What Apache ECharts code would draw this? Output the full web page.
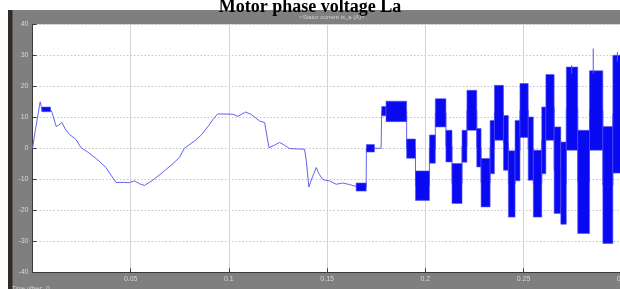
<!DOCTYPE html>
<html>
<head>
<meta charset="utf-8">
<script src="https://cdn.jsdelivr.net/npm/echarts@6/dist/echarts.min.js"></script>
<style>
html,body{margin:0;padding:0;background:#fff;}
#chart{width:620px;height:289px;}
</style>
</head>
<body>
<div id="chart"></div>
<script>
// ---- data ----
const titleText = 'Motor phase voltage La';
const scopeTitle = '<Stator current is_a (A)>';
const xTickValues = [0.05, 0.1, 0.15, 0.2, 0.25, 0.3];
const xTickLabels = ['0.05', '0.1', '0.15', '0.2', '0.25', '0.3'];
const yTickValues = [-40, -30, -20, -10, 0, 10, 20, 30, 40];

// smooth part of the trace (time s, current A)
const traceT = [0, 0.0015, 0.0039, 0.0047, 0.0092, 0.0100, 0.0120, 0.0132, 0.0150, 0.0166,
  0.0188, 0.0222, 0.0247, 0.0281, 0.0324, 0.0374, 0.0400, 0.0425, 0.0468, 0.0493,
  0.0519, 0.0544, 0.0570, 0.0612, 0.0654, 0.0705, 0.0748, 0.0773, 0.0824, 0.0858,
  0.0892, 0.0926, 0.0943, 0.1020, 0.1046, 0.1085, 0.1114, 0.1156, 0.1182, 0.1190,
  0.1204, 0.1212, 0.1232, 0.1258, 0.1283, 0.1309, 0.1385, 0.1394, 0.1407, 0.1415,
  0.1427, 0.1445, 0.1458, 0.1478, 0.1512, 0.1546, 0.1580, 0.1614, 0.1648, 0.1699,
  0.1700, 0.1775];
const traceV = [0, 6, 15, 12.8, 12.4, 11.5, 7.1, 7.4, 8.3, 6.3,
  4.5, 2.8, 0.2, -1.2, -3.3, -6.2, -8.7, -11, -11, -11.1,
  -10.5, -11.4, -12, -10.3, -8.2, -5.5, -3, 0, 2.3, 4.2,
  6.9, 9.9, 11.1, 11, 10.3, 11.7, 10.9, 8.8, 8.3, 5.3,
  0.2, -0.1, 1, 1.9, 1, -0.1, -0.3, -3.9, -12.5, -12.7,
  -9, -6.2, -8.2, -10.1, -10.5, -11.6, -11.2, -11.7, -12.3, -12.5,
  0, 0];

// dense switching bands: start time, end time, upper and lower envelope (A)
const bandT0 = [0.0047, 0.1648, 0.1700, 0.1778, 0.1800, 0.1905, 0.1950, 0.2021, 0.2051, 0.2105,
  0.2136, 0.2187, 0.2212, 0.2262, 0.2284, 0.2330, 0.2352, 0.2398, 0.2423, 0.2457,
  0.2482, 0.2524, 0.2550, 0.2593, 0.2614, 0.2656, 0.2690, 0.2718, 0.2776, 0.2836,
  0.2904, 0.2955];
const bandT1 = [0.0092, 0.1699, 0.1741, 0.1800, 0.1905, 0.1950, 0.2021, 0.2051, 0.2105, 0.2136,
  0.2187, 0.2212, 0.2262, 0.2284, 0.2330, 0.2352, 0.2398, 0.2423, 0.2457, 0.2482,
  0.2524, 0.2550, 0.2593, 0.2614, 0.2656, 0.2690, 0.2718, 0.2776, 0.2836, 0.2904,
  0.2955, 0.3000];
const bandHi = [13.3, -11.2, 1.2, 13.5, 15.2, 3, -7.3, 4.3, 16, 5.8,
  -4.9, 5.8, 18.7, 6.4, -3.3, 9, 20.3, 10.6, -0.8, 9,
  20.9, 10.1, -0.6, 13.3, 23.8, 6.9, 2, 26.2, 5.8, 25,
  7, 30];
const bandLo = [11.8, -13.8, -1.2, 10.5, 8.6, -3.2, -16.8, -4.8, 6.9, -4.4,
  -17.8, -4.5, 5.8, -6, -18.9, -8.2, 2.6, -7.1, -22.2, -10.5,
  3.5, -10.3, -22.2, -8.2, 2.6, -21, -24.5, -0.6, -27.5, -0.6,
  -30.7, -8];

// isolated spikes above the bands
const spikeT = [0.2745, 0.2855, 0.2978];
const spikeBase = [24, 24, 28];
const spikeV = [26.8, 32.2, 31];

// ---- build series data ----
const linePts = traceT.map((t, i) => [t, traceV[i]]);
for (let i = 3; i < bandT0.length; i++) {
  const mid = (bandHi[i] + bandLo[i]) / 2;
  linePts.push([bandT0[i], mid], [bandT1[i], mid]);
}
const bandData = bandT0.map((t, i) => [t, bandT1[i], bandHi[i], bandLo[i]]);
const spikeData = spikeT.map((t, i) => [t, spikeBase[i], spikeV[i]]);

const chart = echarts.init(document.getElementById('chart'), null, {renderer: 'canvas'});
const labelColor = '#d6d6d6';
chart.setOption({
  animation: false,
  backgroundColor: '#ffffff',
  title: {
    text: titleText,
    left: 'center',
    top: -7,
    textStyle: {fontFamily: 'Liberation Serif', fontWeight: 'bold', fontSize: 18, color: '#000'}
  },
  graphic: [
    {type: 'rect', z: -10, shape: {x: 12, y: 10, width: 608, height: 279}, style: {fill: '#7f7f7f'}},
    {type: 'rect', z: -10, shape: {x: 8, y: 10, width: 4.5, height: 279}, style: {fill: '#322c27'}},
    {type: 'text', z: 10, style: {x: 332, y: 17, text: scopeTitle, textAlign: 'center', textVerticalAlign: 'middle',
      fontSize: 6, fontFamily: 'Liberation Sans', fill: '#d2d2d2'}},
    {type: 'text', z: 10, style: {x: 12, y: 288, text: 'Time offset:  0', textAlign: 'left', textVerticalAlign: 'middle',
      fontSize: 6, fontFamily: 'Liberation Sans', fill: '#d2d2d2'}}
  ],
  grid: {left: 32.5, right: -1.7, top: 24.3, bottom: 16.7, show: true, backgroundColor: '#ffffff', borderWidth: 0,
    outerBoundsMode: 'none', containLabel: false},
  xAxis: {
    type: 'value', min: 0, max: 0.3, interval: 0.05,
    axisLine: {show: true, onZero: false, lineStyle: {color: '#3a3a3a', width: 1}},
    axisTick: {show: true, inside: true, length: 4, lineStyle: {color: '#3a3a3a'}},
    axisLabel: {
      color: labelColor, fontSize: 7, fontFamily: 'Liberation Sans', margin: 3, hideOverlap: false,
      formatter: v => { const k = xTickValues.findIndex(x => Math.abs(x - v) < 1e-9); return k >= 0 ? xTickLabels[k] : ''; }
    },
    splitLine: {show: true, lineStyle: {color: '#d4d4d4', width: 1, type: 'solid'}}
  },
  yAxis: {
    type: 'value', min: -40, max: 40, interval: 10,
    axisLine: {show: true, onZero: false, lineStyle: {color: '#3a3a3a', width: 1}},
    axisTick: {show: true, inside: true, length: 4, lineStyle: {color: '#3a3a3a'}},
    axisLabel: {
      color: labelColor, fontSize: 7, fontFamily: 'Liberation Sans', margin: 4,
      formatter: v => (yTickValues.indexOf(v) >= 0 ? String(v) : '')
    },
    splitLine: {show: true, lineStyle: {color: '#c4c4c4', width: 1, type: [1.5, 2]}}
  },
  series: [
    {
      type: 'line', data: linePts, showSymbol: false, symbol: 'none', sampling: 'none', clip: true,
      lineStyle: {color: '#6262ee', width: 1}, z: 3
    },
    {
      type: 'custom', data: bandData, clip: true, z: 4,
      encode: {x: [0, 1], y: [2, 3]},
      renderItem: (params, api) => {
        const p0 = api.coord([api.value(0), api.value(2)]);
        const p1 = api.coord([api.value(1), api.value(3)]);
        return {type: 'rect', shape: {x: p0[0], y: p0[1], width: p1[0] - p0[0], height: p1[1] - p0[1]},
          style: {fill: '#0a0af2', stroke: '#5252f4', lineWidth: 0.6}};
      }
    },
    {
      type: 'custom', data: spikeData, clip: true, z: 4,
      encode: {x: 0, y: [1, 2]},
      renderItem: (params, api) => {
        const a = api.coord([api.value(0), api.value(1)]);
        const b = api.coord([api.value(0), api.value(2)]);
        return {type: 'line', shape: {x1: a[0], y1: a[1], x2: b[0], y2: b[1]}, style: {stroke: '#5252f4', lineWidth: 1}};
      }
    }
  ]
});
</script>
</body>
</html>
